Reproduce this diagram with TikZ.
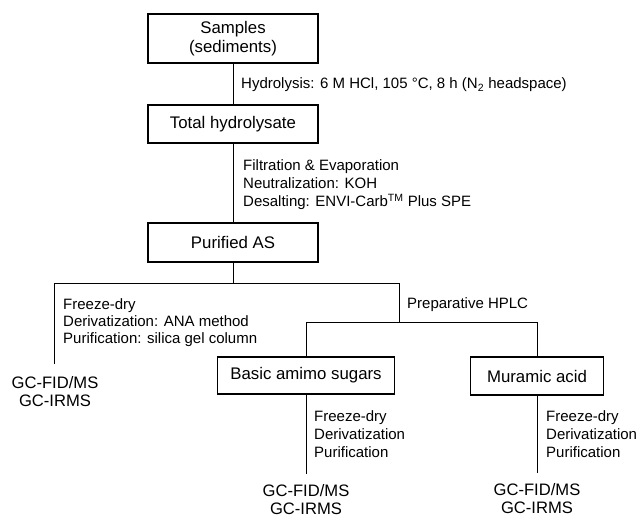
\documentclass[tikz,border=0pt]{standalone}
\usepackage{fontspec}
\setmainfont{Liberation Sans}
\usetikzlibrary{positioning}

\begin{document}
\begin{tikzpicture}[x=1pt, y=-1pt,
        stage/.style={draw, line width=1.4pt, minimum width=170pt, minimum height=38pt, align=center, font=\fontsize{16.8}{19}\selectfont},
        note/.style={anchor=west, align=left, inner sep=0pt, font=\fontsize{15}{18}\selectfont},
        result/.style={align=center, inner sep=0pt, font=\fontsize{16.6}{18.5}\selectfont},
        link/.style={line width=1pt}]
        \useasboundingbox (0,0) rectangle (638,518);

        \node[stage, minimum height=49pt] (samples) at (233,38.5) {Samples\\(sediments)};
        \node[stage] (total) at (233,124) {Total hydrolysate};
        \node[stage, minimum height=39pt] (purified) at (233,242.5) {Purified AS};
        \node[stage, minimum width=177pt, minimum height=37pt] (basic) at (306,375.5) {Basic amimo sugars};
        \node[stage, minimum width=133pt] (muramic) at (537,376) {Muramic acid};

        \coordinate (leftfork) at (54,284);
        \coordinate (rightfork) at (399,284);
        \coordinate (lefttip) at (54,364);
        \coordinate (hplc) at (399,323);
        \coordinate (basictip) at (306,474);
        \coordinate (muramictip) at (537,473);

        \draw[link] (samples) -- (total);
        \draw[link] (total) -- (purified);
        \draw[link] (purified) -- (purified |- leftfork);
        \draw[link] (lefttip) -- (leftfork) -- (rightfork) -- (hplc);
        \draw[link] (basic) -- (basic |- hplc) -- (muramic |- hplc) -- (muramic);
        \draw[link] (basic) -- (basictip);
        \draw[link] (muramic) -- (muramictip);

        \node[note] (hydrolysis) at (241,85) {Hydrolysis: 6 M HCl, 105 °C, 8 h (N\textsubscript{2} headspace)};
        \node[note] (cleanup) at (243,185) {Filtration \& Evaporation\\Neutralization: KOH\\Desalting: ENVI-Carb\textsuperscript{TM} Plus SPE};
        \node[note, font=\fontsize{15}{17}\selectfont] (anasteps) at (63,323) {Freeze-dry\\Derivatization: ANA method\\Purification: silica gel column};
        \node[note] (hplclabel) at (407,305) {Preparative HPLC};
        \node[note] (basicsteps) at (314,434) {Freeze-dry\\Derivatization\\Purification};
        \node[note] (muramicsteps) at (546,434) {Freeze-dry\\Derivatization\\Purification};

        \node[result] (gcleft) at (55,391.5) {GC-FID/MS\\GC-IRMS};
        \node[result] (gcbasic) at (306,499.5) {GC-FID/MS\\GC-IRMS};
        \node[result] (gcmuramic) at (537,498.5) {GC-FID/MS\\GC-IRMS};
      \end{tikzpicture}
\end{document}
